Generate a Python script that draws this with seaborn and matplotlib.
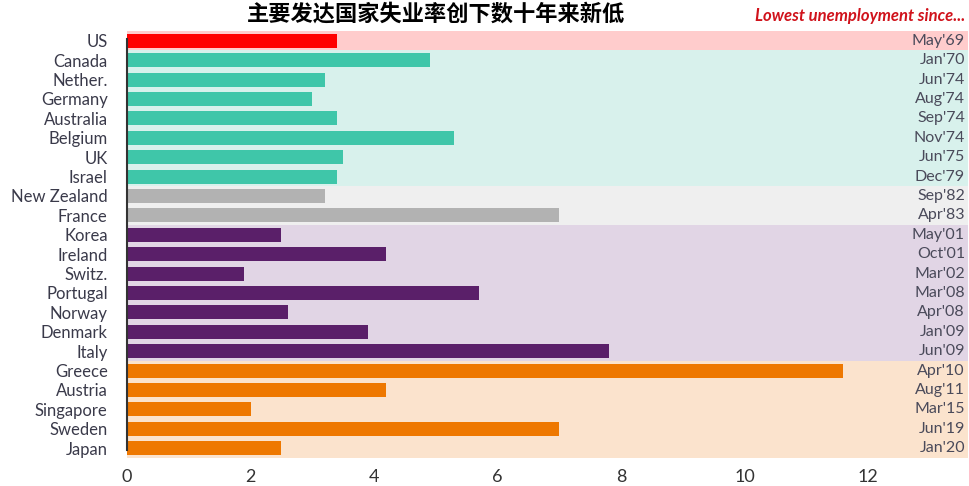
import matplotlib
matplotlib.use("Agg")
import matplotlib.pyplot as plt
import seaborn as sns
import pandas as pd

countries = ["US", "Canada", "Nether.", "Germany", "Australia", "Belgium", "UK", "Israel",
             "New Zealand", "France", "Korea", "Ireland", "Switz.", "Portugal", "Norway",
             "Denmark", "Italy", "Greece", "Austria", "Singapore", "Sweden", "Japan"]
rates = [3.4, 4.9, 3.2, 3.0, 3.4, 5.3, 3.5, 3.4,
         3.2, 7.0, 2.5, 4.2, 1.9, 5.7, 2.6,
         3.9, 7.8, 11.6, 4.2, 2.0, 7.0, 2.5]
since = ["May'69", "Jan'70", "Jun'74", "Aug'74", "Sep'74", "Nov'74", "Jun'75", "Dec'79",
         "Sep'82", "Apr'83", "May'01", "Oct'01", "Mar'02", "Mar'08", "Apr'08",
         "Jan'09", "Jun'09", "Apr'10", "Aug'11", "Mar'15", "Jun'19", "Jan'20"]
groups = ["us"] + ["g1"] * 7 + ["g2"] * 2 + ["g3"] * 7 + ["g4"] * 5

bar_colors = {"us": "#ff0000", "g1": "#3fc6a9", "g2": "#b2b2b2", "g3": "#5a1f69", "g4": "#ee7800"}
band_colors = {"us": "#ffcccc", "g1": "#d8f1ec", "g2": "#efefef", "g3": "#e1d5e5", "g4": "#fbe3cd"}

df = pd.DataFrame({"country": countries, "rate": rates, "group": groups})

sns.set_style("white")
plt.rcParams['font.family'] = ['Lato', 'Noto Sans CJK SC', 'DejaVu Sans']

fig = plt.figure(figsize=(9.7, 4.86), dpi=100)
ax = fig.add_axes([0.131, 0.058, 0.867, 0.878])

# background bands per group
start = 0
for i in range(1, len(groups) + 1):
    if i == len(groups) or groups[i] != groups[start]:
        ax.axhspan(start - 0.5, i - 0.5, color=band_colors[groups[start]], lw=0, zorder=0)
        start = i

sns.barplot(data=df, x="rate", y="country", hue="group", palette=bar_colors,
            dodge=False, width=0.72, legend=False, saturation=1, linewidth=0,
            ax=ax, zorder=2)

ax.set_xlim(0, 13.62)
ax.set_ylim(len(countries) - 0.5, -0.5)
ax.set_xticks([0, 2, 4, 6, 8, 10, 12])
ax.set_xlabel("")
ax.set_ylabel("")
ax.tick_params(axis="x", length=0, pad=8, labelsize=13, labelcolor="#333333")
ax.tick_params(axis="y", length=0, pad=14, labelsize=12, labelcolor="#3a3a4a")
for s in ["top", "right", "bottom"]:
    ax.spines[s].set_visible(False)
ax.spines["left"].set_color("#333333")
ax.spines["left"].set_linewidth(1.5)
ax.spines["left"].set_zorder(3)
ax.spines["left"].set_bounds(len(countries) - 0.9, -0.1)

for i, lab in enumerate(since):
    ax.text(13.57, i, lab, ha="right", va="center", fontsize=11.5, color="#4a4a5a", zorder=3)

fig.text(0.45, 0.995, "主要发达国家失业率创下数十年来新低", ha="center", va="top",
         fontsize=16, fontweight="bold", color="black")
fig.text(0.995, 0.968, "Lowest unemployment since...", ha="right", va="center",
         fontsize=12, fontweight="bold", fontstyle="italic", color="#d0121b")

fig.savefig("out.png", dpi=100)
